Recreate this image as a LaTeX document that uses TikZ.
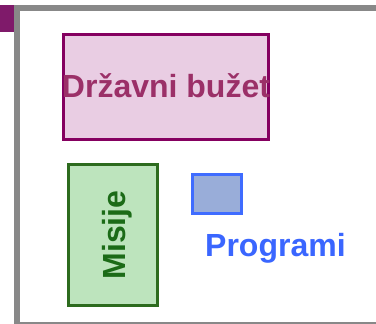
\documentclass[tikz,border=0pt]{standalone}
\usepackage{fontspec}
\setmainfont{Liberation Sans}
\definecolor{framegray}{HTML}{888888}
\definecolor{tabpurple}{HTML}{7F1A6A}
\definecolor{budgetline}{HTML}{850060}
\definecolor{budgetfill}{HTML}{E9CDE3}
\definecolor{budgettext}{HTML}{9B3068}
\definecolor{misline}{HTML}{2D6B1E}
\definecolor{misfill}{HTML}{BDE4BD}
\definecolor{mistext}{HTML}{1B6B17}
\definecolor{progline}{HTML}{3F6CFF}
\definecolor{progfill}{HTML}{99ADD9}
\definecolor{progtext}{HTML}{3A66FF}
\tikzset{
  boxstyle/.style={line width=3pt, inner sep=0pt},
  bigtext/.style={font=\fontsize{32}{32}\selectfont\bfseries, inner sep=0pt},
}
\begin{document}
\begin{tikzpicture}[x=1pt,y=-1pt]
\useasboundingbox (0,0) rectangle (376,324);
% frame
\fill[white] (0,0) rectangle (376,324);
\fill[tabpurple] (0,5) rectangle (14,32);
\fill[framegray] (14,5) rectangle (376,11);
\fill[framegray] (14,5) rectangle (20,324);
\fill[framegray] (20,322) rectangle (376,324);
% Drzavni budzet
\node[boxstyle, draw=budgetline, fill=budgetfill, minimum width=205pt, minimum height=105pt] (budget) at (166,86.5) {};
\node[bigtext, text=budgettext, anchor=base] (budgetlabel) at (166,98) {Državni bužet};
% Misije
\node[boxstyle, draw=misline, fill=misfill, minimum width=89pt, minimum height=141pt] (misije) at (113,235) {};
\node[bigtext, text=mistext, rotate=90, anchor=base] (misijelabel) at (125,235) {Misije};
% Programi
\node[boxstyle, draw=progline, fill=progfill, minimum width=49pt, minimum height=39pt] (progbox) at (217,194) {};
\node[bigtext, text=progtext, anchor=base west] (proglabel) at (205,257) {Programi};
\end{tikzpicture}
\end{document}
